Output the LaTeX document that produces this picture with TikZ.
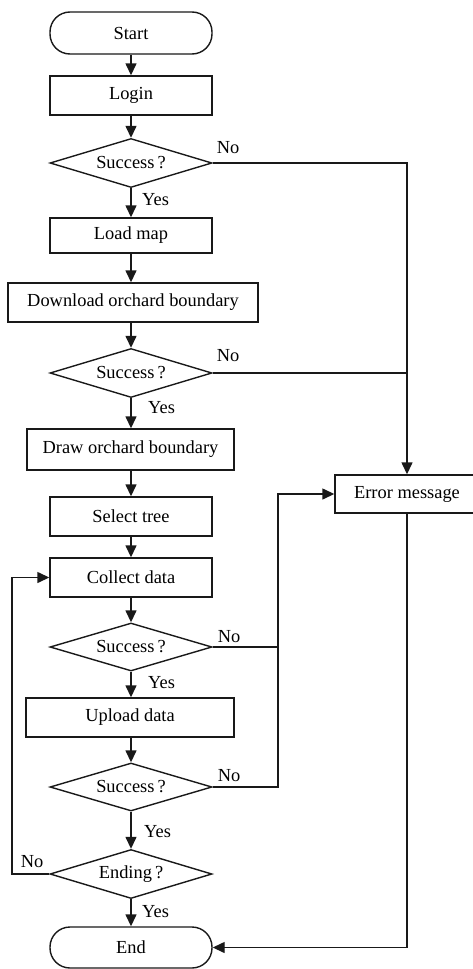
\documentclass[tikz,border=0pt]{standalone}
\usepackage{fontspec}
\setmainfont{Liberation Serif}
\usetikzlibrary{shapes.geometric,arrows.meta}

\begin{document}
\begin{tikzpicture}[x=1pt,y=-1pt,
  font=\fontsize{18.4}{20}\selectfont,
  every node/.style={inner sep=0pt},
  flowline/.style={line width=1.4pt, draw=black!90},
  arr/.style={flowline, -{Triangle[length=12pt,width=11pt]}},
  procbox/.style={draw=black!90, line width=1.4pt, rectangle, minimum height=39pt},
  termbox/.style={draw=black!90, line width=1.4pt, rectangle, rounded corners=20pt,
                  minimum width=162pt, minimum height=42pt},
  decision/.style={draw=black!90, line width=1.4pt, diamond, aspect=3.3,
                   minimum width=162pt, minimum height=49pt},
  lbl/.style={anchor=center}
]
\useasboundingbox (0,0) rectangle (473,969);

% main column
\node[termbox] (start) at (131,33) {Start};
\node[procbox, minimum width=162pt] (login) at (131,95.5) {Login};
\node[decision] (d1) at (131,163) {Success\,?};
\node[procbox, minimum width=162pt, minimum height=35pt] (loadmap) at (131,235.5) {Load map};
\node[procbox, minimum width=250pt] (download) at (133,302.5) {Download orchard boundary};
\node[decision] (d2) at (131,373) {Success\,?};
\node[procbox, minimum width=207pt, minimum height=41pt] (drawb) at (130.5,449.5) {Draw orchard boundary};
\node[procbox, minimum width=162pt] (select) at (131,516.5) {Select tree};
\node[procbox, minimum width=162pt] (collect) at (131,577.5) {Collect data};
\node[decision, minimum height=48pt] (d3) at (131,647) {Success\,?};
\node[procbox, minimum width=208pt] (upload) at (130,717.5) {Upload data};
\node[decision, minimum height=48pt] (d4) at (131,787) {Success\,?};
\node[decision] (d5) at (131,874) {Ending\,?};
\node[termbox, minimum height=41pt] (endn) at (131,947.5) {End};

% error branch
\node[procbox, minimum width=144pt, minimum height=38pt] (err) at (407,494) {Error message};

% junction points
\coordinate (j1) at (407,163);
\coordinate (j2) at (407,373);
\coordinate (j3) at (278,647);
\coordinate (j3b) at (278,494);
\coordinate (j4) at (278,787);
\coordinate (j5) at (12,874);
\coordinate (j5b) at (12,577.5);
\coordinate (je) at (407,947.5);

% straight flow
\draw[arr] (start) -- (login);
\draw[arr] (login) -- (d1);
\draw[arr] (d1) -- (loadmap);
\draw[arr] (loadmap) -- (download.north -| loadmap);
\draw[arr] (download.south -| d2) -- (d2);
\draw[arr] (d2) -- (drawb.north -| d2);
\draw[arr] (drawb.south -| select) -- (select);
\draw[arr] (select) -- (collect);
\draw[arr] (collect) -- (d3);
\draw[arr] (d3) -- (upload.north -| d3);
\draw[arr] (upload.south -| d4) -- (d4);
\draw[arr] (d4) -- (d5);
\draw[arr] (d5) -- (endn);

% failure branches
\draw[arr] (d1.east) -- (j1) -- (err.north);
\draw[flowline] (d2.east) -- (j2);
\draw[arr] (d3.east) -- (j3) -- (j3b) -- (err.west);
\draw[flowline] (d4.east) -- (j4) -- (j3);
\draw[arr] (err.south) -- (je) -- (endn.east);

% loop back
\draw[arr] (d5.west) -- (j5) -- (j5b) -- (collect.west);

% labels
\node[lbl] (n1) at (228,148) {No};
\node[lbl] (n2) at (228,356) {No};
\node[lbl] (n3) at (229,637) {No};
\node[lbl] (n4) at (229,776) {No};
\node[lbl] (n5) at (32,862) {No};
\node[anchor=west] (y1) at (142,200) {Yes};
\node[anchor=west] (y2) at (148,408) {Yes};
\node[anchor=west] (y3) at (148,683) {Yes};
\node[anchor=west] (y4) at (144,832) {Yes};
\node[anchor=west] (y5) at (142,912) {Yes};
\end{tikzpicture}
\end{document}
